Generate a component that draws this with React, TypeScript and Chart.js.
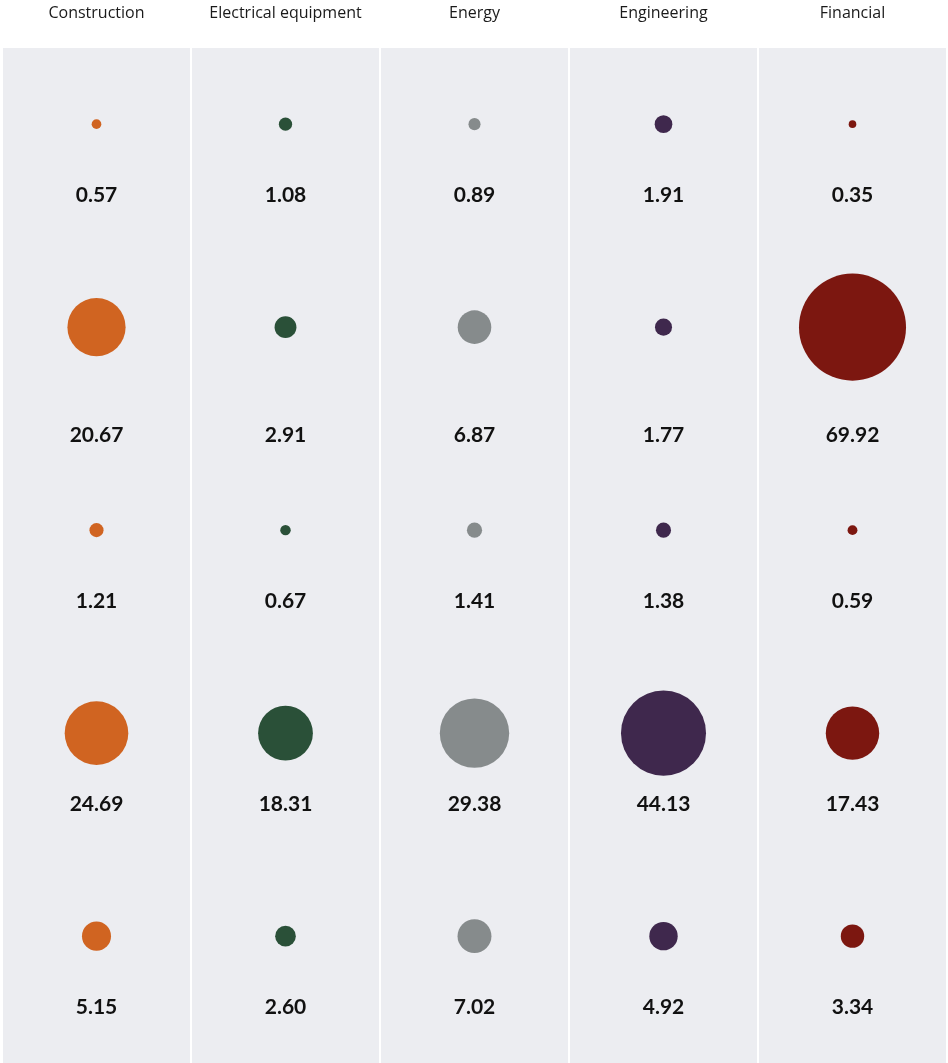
import React, { useEffect, useRef } from "react";
import { Chart, registerables } from "chart.js";

Chart.register(...registerables);

const categories = ["Construction", "Electrical equipment", "Energy", "Engineering", "Financial"];
const colors = ["#d06421", "#2a5038", "#868b8c", "#3f284d", "#7c1710"];

const construction = [0.57, 20.67, 1.21, 24.69, 5.15];
const electrical = [1.08, 2.91, 0.67, 18.31, 2.6];
const energy = [0.89, 6.87, 1.41, 29.38, 7.02];
const engineering = [1.91, 1.77, 1.38, 44.13, 4.92];
const financial = [0.35, 69.92, 0.59, 17.43, 3.34];

const seriesValues = [construction, electrical, energy, engineering, financial];
const rowCount = 5;

const radiusFor = (v: number) => 6.4 * Math.sqrt(v);

export default function App() {
  const ref = useRef<HTMLCanvasElement | null>(null);

  useEffect(() => {
    document.body.style.margin = "0";
    const canvas = ref.current;
    if (!canvas) return;

    const rowMaxR = Array.from({ length: rowCount }, (_, i) =>
      Math.max(...seriesValues.map((s) => radiusFor(s[i])))
    );

    const bgPlugin = {
      id: "bg",
      beforeDraw(chart: any) {
        const { ctx, chartArea } = chart;
        ctx.save();
        ctx.fillStyle = "#ecedf1";
        ctx.fillRect(chartArea.left, chartArea.top, chartArea.right - chartArea.left, chartArea.bottom - chartArea.top);
        ctx.restore();
      },
    };

    const labelPlugin = {
      id: "labels",
      afterDatasetsDraw(chart: any) {
        const { ctx, scales } = chart;
        const xs = scales.x;
        const ys = scales.y;
        ctx.save();
        ctx.textAlign = "center";
        ctx.textBaseline = "middle";
        ctx.fillStyle = "#1a1a1a";
        ctx.font = "16px 'Open Sans', Lato, sans-serif";
        categories.forEach((c, i) => {
          ctx.fillText(c, xs.getPixelForValue(i), 13);
        });
        ctx.fillStyle = "#111";
        ctx.font = "bold 21px Lato, 'Open Sans', sans-serif";
        seriesValues.forEach((s, ci) => {
          s.forEach((v, ri) => {
            const off = Math.max(71, 4 * rowMaxR[ri] - 106);
            ctx.fillText(v.toFixed(2), xs.getPixelForValue(ci), ys.getPixelForValue(ri) + off);
          });
        });
        ctx.restore();
      },
    };

    const chart = new Chart(canvas, {
      type: "bubble",
      data: {
        labels: categories,
        datasets: seriesValues.map((s, ci) => ({
          label: categories[ci],
          data: s.map((v, ri) => ({ x: categories[ci], y: ri, r: radiusFor(v) })),
          backgroundColor: colors[ci],
          borderWidth: 0,
          clip: false,
        })) as any,
      },
      options: {
        responsive: false,
        animation: false,
        events: [],
        layout: { autoPadding: false, padding: { top: 48, left: 2, right: 1, bottom: 0 } },
        plugins: { legend: { display: false }, tooltip: { enabled: false } },
        scales: {
          x: {
            type: "category",
            labels: categories,
            offset: true,
            position: "top",
            ticks: { display: false },
            border: { display: false },
            grid: { color: "#ffffff", lineWidth: 2, drawTicks: false, offset: true },
          },
          y: {
            type: "linear",
            min: -0.375,
            max: 4.625,
            reverse: true,
            display: false,
          },
        },
      },
      plugins: [bgPlugin, labelPlugin],
    });
    return () => chart.destroy();
  }, []);

  return (
    <div style={{ position: "absolute", left: 0, top: 0, width: 948, height: 1063, background: "#fff" }}>
      <canvas ref={ref} width={948} height={1063} style={{ display: "block" }} />
    </div>
  );
}
